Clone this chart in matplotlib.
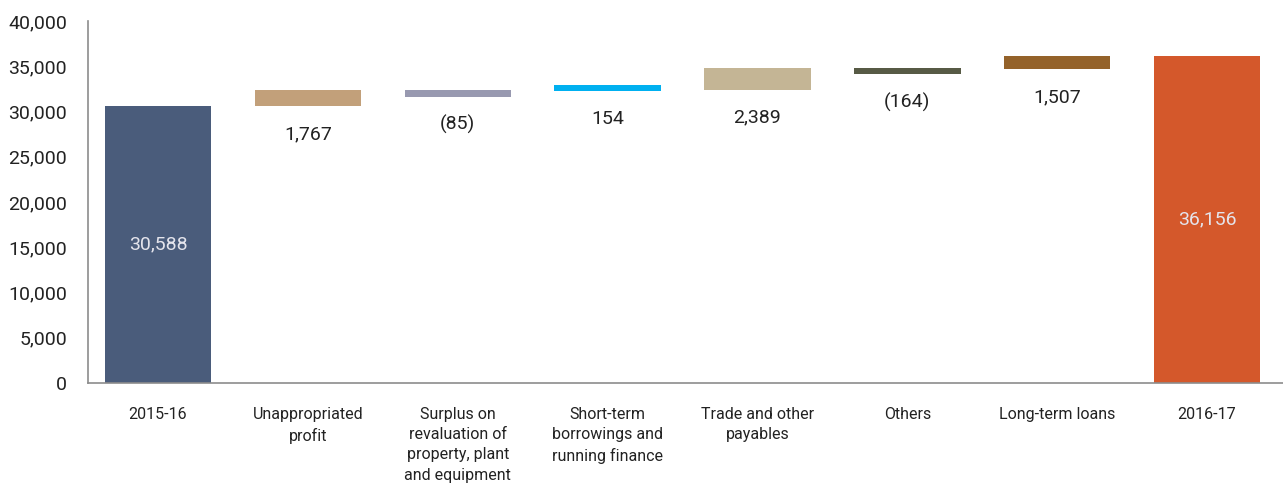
import numpy as np
import matplotlib
matplotlib.use('Agg')
import matplotlib.pyplot as plt

categories = ['2015-16', 'Unappropriated\nprofit', 'Surplus on\nrevaluation of\nproperty, plant\nand equipment',
              'Short-term\nborrowings and\nrunning finance', 'Trade and other\npayables', 'Others',
              'Long-term loans', '2016-17']
changes = [30588, 1767, -85, 154, 2389, -164, 1507, 36156]
labels = ['30,588', '1,767', '(85)', '154', '2,389', '(164)', '1,507', '36,156']
colors = ['#4a5c7b', '#c2a07a', '#9899b0', '#00b0f0', '#c4b595', '#575a45', '#94622a', '#d4582b']

# small changes get a minimum drawn height so they stay visible
min_h = 700

plt.rcParams['font.family'] = ['Roboto', 'DejaVu Sans']

fig = plt.figure(figsize=(12.83, 4.88), dpi=100)
ax = fig.add_axes([0.0686, 0.215, 0.9314, 0.742])

x = np.arange(len(categories))
running = 0
for i, v in enumerate(changes):
    if i == 0 or i == len(changes) - 1:
        bottom, height = 0, v
        running = v
    else:
        h = max(abs(v), min_h)
        bottom = running if v > 0 else running - h
        height = h
        running += v
    ax.bar(x[i], height, bottom=bottom, width=0.71, color=colors[i])
    if i == 0 or i == len(changes) - 1:
        ax.text(x[i], v / 2, labels[i], ha='center', va='center', color='#e4e4ec', fontsize=14)
    else:
        ax.annotate(labels[i], (x[i], bottom), xytext=(0, -20), textcoords='offset points',
                    ha='center', va='center', color='#222222', fontsize=14)

ax.set_xlim(-0.467, 7.507)
ax.set_ylim(0, 40000)
ax.set_yticks(np.arange(0, 40001, 5000))
ax.set_yticklabels([f'{t:,}' for t in range(0, 40001, 5000)], fontsize=14, color='#222222')
ax.set_xticks(x)
ax.set_xticklabels(categories, fontsize=11.5, color='#222222', va='top', linespacing=1.45)
ax.tick_params(axis='both', length=0)
ax.tick_params(axis='x', pad=17)
ax.tick_params(axis='y', pad=15)
for s in ['top', 'right']:
    ax.spines[s].set_visible(False)
for s in ['left', 'bottom']:
    ax.spines[s].set_color('#8c8c8c')
    ax.spines[s].set_linewidth(1.2)

fig.savefig('out.png', dpi=100)
